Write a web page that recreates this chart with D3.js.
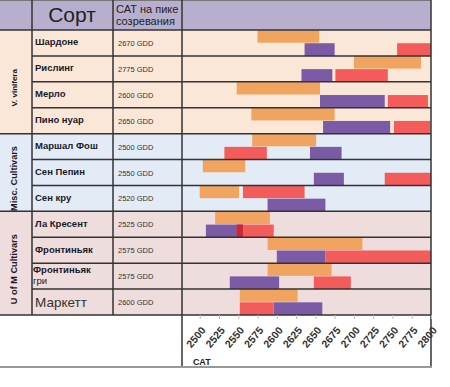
<!DOCTYPE html>
<html><head><meta charset="utf-8">
<script src="https://cdn.jsdelivr.net/npm/d3@7"></script>
<style>body{margin:0;background:#fff}svg{display:block}text{font-family:"Liberation Sans",Arial,sans-serif}</style>
</head><body><svg id="c" width="450" height="387"></svg>
<script>
const varieties = ["Шардоне","Рислинг","Мерло","Пино нуар","Маршал Фош","Сен Пепин","Сен кру","Ла Кресент","Фронтиньяк","Фронтиньяк гри","Маркетт"];
const gddLabels = ["2670 GDD","2775 GDD","2600 GDD","2650 GDD","2500 GDD","2550 GDD","2520 GDD","2525 GDD","2575 GDD","2575 GDD","2600 GDD"];
const groups = ["V. vinifera","Misc. Cultivars","U of M Cultivars"];
const groupOf = [0,0,0,0,1,1,1,2,2,2,2];
const orangeRange = [[2575,2655],[2700,2787],[2548,2656],[2567,2675],[2568,2651],[2504,2559],[2500,2551],[2520,2591],[2588,2711],[2588,2671],[2552,2627]];
const purpleRange = [[2636,2675],[2632,2672],[2656,2740],[2660,2747],[2643,2684],[2648,2687],[2588,2663],[2508,2556],[2600,2663],[2539,2603],[2596,2659]];
const redRange = [[2756,2800],[2676,2744],[2744,2796],[2752,2799],[2532,2587],[2740,2800],[2556,2636],[2548,2596],[2663,2800],[2648,2696],[2552,2596]];
const redLane = ["low","low","low","low","low","low","high","low","low","low","low"];
const xTicks = [2500,2525,2550,2575,2600,2625,2650,2675,2700,2725,2750,2775,2800];
const headerVariety = "Сорт";
const headerGdd = ["САТ на пике","созревания"];
const axisTitle = "САТ";

const svg = d3.select("#c");
const X0 = 182, X1 = 431, TOP = 30, BOT = 315, AXB = 367;
const cGroup = 32, cName = 113;
const groupFill = ["#fbe7d8","#e3ebf7","#efdcdc"];
const colOrange = "#f0a460", colPurple = "#7b5ba6", colRed = "#f45c5c", colOverlap = "#c8283c";
const lineCol = "#333";

const x = d3.scaleLinear().domain([2477, 2800]).range([X0, X1]);
const y = d3.scaleBand().domain(d3.range(varieties.length)).range([TOP, BOT]);
const lane = d3.scaleBand().domain(["high","low"]).range([0, y.bandwidth()]).paddingInner(0.04);

// header
svg.append("rect").attr("x",0).attr("y",0).attr("width",X1).attr("height",TOP).attr("fill","#b8afcf");
svg.append("line").attr("x1",0).attr("x2",X1).attr("y1",0.5).attr("y2",0.5).attr("stroke","#777");

// row backgrounds
svg.selectAll(".rowbg").data(varieties).join("rect")
  .attr("x",cGroup).attr("y",(d,i)=>y(i)).attr("width",X1-cGroup).attr("height",y.bandwidth())
  .attr("fill",(d,i)=>groupFill[groupOf[i]]);
// group column backgrounds
const gExt = groups.map((g,gi)=>{const idx=d3.range(varieties.length).filter(i=>groupOf[i]===gi);return [y(idx[0]), y(idx[idx.length-1])+y.bandwidth()];});
svg.selectAll(".gbg").data(groups).join("rect")
  .attr("x",0).attr("y",(d,i)=>gExt[i][0]).attr("width",cGroup).attr("height",(d,i)=>gExt[i][1]-gExt[i][0])
  .attr("fill",(d,i)=>groupFill[i]);

// bars
const bars = svg.append("g");
function drawBars(ranges, col, laneFn){
  bars.selectAll(null).data(ranges).join("rect")
    .attr("x",d=>x(d[0])).attr("width",d=>x(d[1])-x(d[0]))
    .attr("y",(d,i)=>y(i)+lane(laneFn(i))).attr("height",lane.bandwidth())
    .attr("fill",col);
}
drawBars(orangeRange, colOrange, ()=>"high");
drawBars(purpleRange, colPurple, ()=>"low");
drawBars(redRange, colRed, i=>redLane[i]);
// overlap of purple and red on same lane
const overlaps = varieties.map((v,i)=>{
  if(redLane[i]!=="low") return null;
  const a=Math.max(purpleRange[i][0],redRange[i][0]), b=Math.min(purpleRange[i][1],redRange[i][1]);
  return b>a?[a,b,i]:null;}).filter(d=>d);
bars.selectAll(null).data(overlaps).join("rect")
  .attr("x",d=>x(d[0])).attr("width",d=>x(d[1])-x(d[0]))
  .attr("y",d=>y(d[2])+lane("low")).attr("height",lane.bandwidth()).attr("fill",colOverlap);

// grid lines
const grid = svg.append("g").attr("stroke",lineCol).attr("stroke-width",1.5);
varieties.forEach((v,i)=>{
  const yb = y(i)+y.bandwidth();
  const isGroupEnd = i===varieties.length-1 || groupOf[i+1]!==groupOf[i];
  grid.append("line").attr("x1",isGroupEnd?0:cGroup).attr("x2",X1).attr("y1",yb).attr("y2",yb);
});
grid.append("line").attr("x1",0).attr("x2",X1).attr("y1",TOP).attr("y2",TOP);
[[cGroup,0,BOT],[cName,0,BOT],[X0,0,AXB],[X1,0,AXB]].forEach(([xx,a,b])=>
  grid.append("line").attr("x1",xx).attr("x2",xx).attr("y1",a).attr("y2",b));
svg.append("line").attr("x1",0).attr("x2",X1+1).attr("y1",AXB).attr("y2",AXB).attr("stroke","#999").attr("stroke-width",2);

// header texts
svg.append("text").attr("x",72).attr("y",22).attr("text-anchor","middle").attr("font-size",21).attr("fill","#222").text(headerVariety);
svg.append("text").attr("x",116).attr("y",13).attr("font-size",11).attr("fill","#222")
  .selectAll("tspan").data(headerGdd).join("tspan").attr("x",116).attr("dy",(d,i)=>i?12:0).text(d=>d);

// variety names
const names = svg.append("g");
varieties.forEach((v,i)=>{
  const mid = y(i)+y.bandwidth()/2;
  const big = v==="Маркетт";
  const t = names.append("text").attr("x",35).attr("y",mid+(big?4:2)+0.5)
    .attr("font-size",big?13.5:9.5).attr("font-weight",big?"normal":"bold").attr("fill",big?"#333":"#1a1a28").text(v);
  if(!big && t.node().getComputedTextLength()>75){
    const parts=v.split(" ");
    t.text(null).attr("y",mid-3);
    t.selectAll("tspan").data(parts).join("tspan").attr("x",33).attr("dy",(d,k)=>k?11:0).attr("font-weight",(d,k)=>k?"normal":"bold").text(d=>d);
  }
  svg.append("text").attr("x",118).attr("y",mid+3).attr("font-size",7.5).attr("fill","#333").text(gddLabels[i]);
});

// group labels
groups.forEach((g,gi)=>{
  const cy=(gExt[gi][0]+gExt[gi][1])/2+6;
  svg.append("text").attr("transform",`translate(14,${cy}) rotate(-90)`).attr("text-anchor","middle")
    .attr("dominant-baseline","central").attr("font-size",gi===0?8:9.2).attr("font-weight","bold").attr("fill","#1a1a28").text(g);
});

// axis
const ax = svg.append("g").attr("transform",`translate(0,${BOT})`)
  .call(d3.axisBottom(x).tickValues(xTicks).tickSize(4).tickFormat(d3.format("d")));
ax.select(".domain").remove();
ax.selectAll(".tick line").attr("stroke","#bbb");
ax.selectAll(".tick text").attr("x",0).attr("y",0).attr("dy",null)
  .attr("transform","translate(3,13) rotate(-50)").attr("text-anchor","end").attr("dominant-baseline","central")
  .attr("font-size",10.5).attr("font-weight","bold").attr("fill","#333").attr("font-family","Liberation Sans, Arial, sans-serif");
svg.append("text").attr("x",193).attr("y",365).attr("font-size",9).attr("font-weight","bold").attr("fill","#222").text(axisTitle);
</script></body></html>
